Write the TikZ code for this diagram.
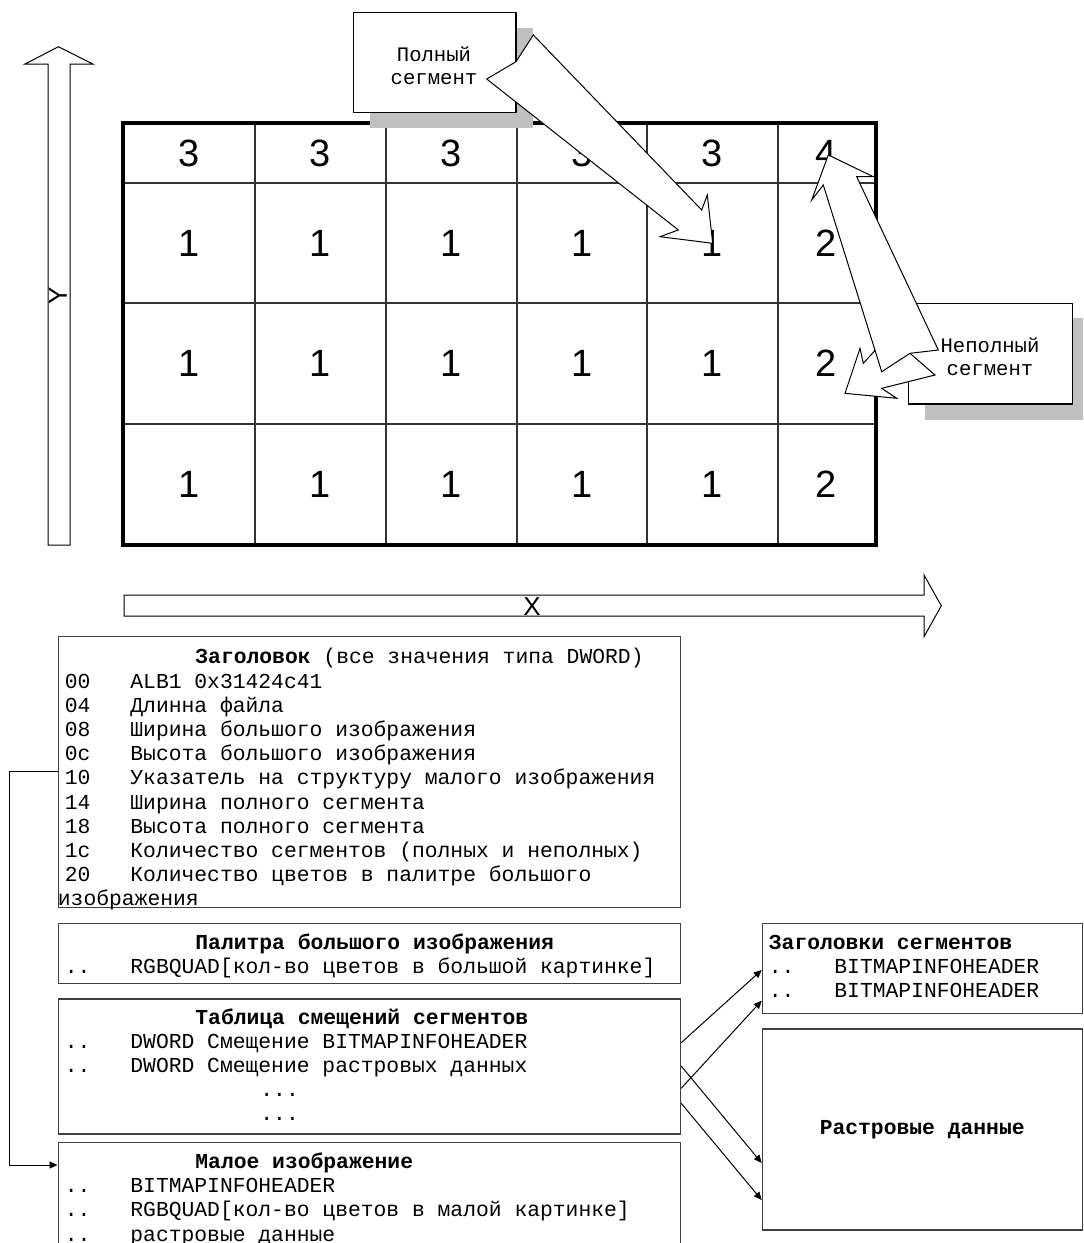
\documentclass[tikz,border=0pt]{standalone}
\usepackage{fontspec}
\setmainfont{Liberation Sans}
\setmonofont{Liberation Mono}
\usetikzlibrary{arrows.meta, positioning, calc}
\definecolor{shadowgray}{RGB}{192,192,192}

\begin{document}
\begin{tikzpicture}[
    x=0.5pt, y=-0.5pt,
    digit/.style={
        inner sep=0,
        font=\fontsize{19}{19}\selectfont
    },
    gridline/.style={
        draw=black!80,
        line width=0.55pt
    },
    axisarrow/.style={
        draw=black,
        fill=white,
        line width=0.5pt
    },
    axislabel/.style={
        inner sep=0,
        font=\fontsize{13}{13}\selectfont
    },
    note/.style={
        draw=black,
        fill=white,
        line width=0.6pt,
        inner sep=0
    },
    notetext/.style={
        inner sep=0,
        align=center,
        font=\ttfamily\fontsize{10.3}{11.5}\selectfont
    },
    dropshade/.style={
        fill=shadowgray
    },
    callout/.style={
        draw=black,
        fill=white,
        line width=0.5pt
    },
    rec/.style={
        draw=black!75,
        line width=0.6pt,
        anchor=north west,
        inner sep=0
    },
    listing/.style={
        anchor=north west,
        inner sep=0,
        align=left,
        font=\ttfamily\fontsize{10.67}{12.1}\selectfont
    },
    link/.style={
        -{Triangle[length=4pt, width=3.5pt]},
        line width=0.5pt,
        draw=black
    }
]
\useasboundingbox (0,0) rectangle (1083,1243);
\clip (0,0) rectangle (1083,1243);

% Axes
\draw[axisarrow] (48,545) -- (48,64) -- (25,64) -- (58.5,46.7) -- (92.7,64) -- (70,64) -- (70,545) -- cycle;
\node[axislabel, rotate=90] (ylab) at (58,296) {Y};
\draw[axisarrow] (124,595) -- (924,595) -- (924,575) -- (941.3,605.8) -- (924,636.7) -- (924,616) -- (124,616) -- cycle;
\node[axislabel] (xlab) at (532,607) {X};

% Segment grid
\foreach \gx in {255,386,517,647,778}
    \draw[gridline] (\gx,123) -- (\gx,545);
\foreach \gy in {183,303,424}
    \draw[gridline] (123,\gy) -- (876,\gy);
\draw[line width=1.8pt] (123,123) rectangle (876,545);
\foreach \cx/\va/\vb [count=\i] in {189/3/1, 320.5/3/1, 451.5/3/1, 582/3/1, 712.5/3/1, 826.5/4/2} {
    \node[digit] (c\i-1) at (\cx,153) {\va};
    \node[digit] (c\i-2) at (\cx,243) {\vb};
    \node[digit] (c\i-3) at (\cx,363.5) {\vb};
    \node[digit] (c\i-4) at (\cx,484.5) {\vb};
}

% Callouts
\fill[dropshade] (370,28.3) rectangle (533.3,128.3);
\node[note, minimum width=81.35pt, minimum height=49.8pt] (full) at (434.65,62.5) {};
\draw[callout] (533.3,35) -- (701.7,210) -- (707.3,195) -- (712.7,243.3) -- (660,236.7) -- (678.3,230) -- (486.7,79) -- (516,61.7) -- cycle;
\node[notetext] (fulltext) at (434,65.3) {Полный\\сегмент};

\fill[dropshade] (925,318.3) rectangle (1083.3,420);
\node[note, minimum width=82.2pt, minimum height=50.35pt] (part) at (990.5,353.65) {};
\draw[callout] (845,393.3) -- (860,348.3) -- (863.3,363.3) -- (880,345) -- (910,353.3) -- (935,375) -- (881.7,388.3) -- (896.7,398.3) -- cycle;
\draw[callout] (828.3,155) -- (873.3,176.7) -- (856.7,176.7) -- (938.3,350) -- (910,353.3) -- (881.7,371.7) -- (823.3,185) -- (811.7,200) -- cycle;
\node[notetext] (parttext) at (990,357) {Неполный\\сегмент};

% File layout
\node[rec, minimum width=311.25pt, minimum height=135.6pt] (hdr) at (57.5,635.5) {};
\node[rec, minimum width=311.25pt, minimum height=30pt] (pal) at (57.5,922.7) {};
\node[rec, minimum width=311.25pt, minimum height=67.5pt] (offs) at (57.5,998.3) {};
\node[rec, minimum width=311.25pt, minimum height=64pt] (small) at (57.5,1141.7) {};
\node[rec, minimum width=159.9pt, minimum height=45pt] (seghdr) at (761.7,922.7) {};
\node[rec, minimum width=159.9pt, minimum height=100.5pt, font=\ttfamily\bfseries\fontsize{10.67}{12.1}\selectfont] (raster) at (761.7,1028.3) {Растровые данные};

\node[listing] (hdrtext) at (64.5,646.5) {\strut\hspace*{65.25pt}\textbf{Заголовок} (все значения типа DWORD)\\
\makebox[32.75pt][l]{00}ALB1 0x31424c41\\
\makebox[32.75pt][l]{04}Длинна файла\\
\makebox[32.75pt][l]{08}Ширина большого изображения\\
\makebox[32.75pt][l]{0c}Высота большого изображения\\
\makebox[32.75pt][l]{10}Указатель на структуру малого изображения\\
\makebox[32.75pt][l]{14}Ширина полного сегмента\\
\makebox[32.75pt][l]{18}Высота полного сегмента\\
\makebox[32.75pt][l]{1c}Количество сегментов (полных и неполных)\\
\makebox[32.75pt][l]{20}Количество цветов в палитре большого\\
\hspace*{-3.5pt}изображения};
\node[listing] (paltext) at (64.5,932.2) {\strut\hspace*{65.25pt}\textbf{Палитра большого изображения}\\
\makebox[32.75pt][l]{..}RGBQUAD[кол-во цветов в большой картинке]};
\node[listing] (offtext) at (64.5,1006.8) {\strut\hspace*{65.25pt}\textbf{Таблица смещений сегментов}\\
\makebox[32.75pt][l]{..}DWORD Смещение BITMAPINFOHEADER\\
\makebox[32.75pt][l]{..}DWORD Смещение растровых данных\\
\hspace*{97.75pt}...\\
\hspace*{97.75pt}...};
\node[listing] (smalltext) at (64.5,1151.2) {\strut\hspace*{65.25pt}\textbf{Малое изображение}\\
\makebox[32.75pt][l]{..}BITMAPINFOHEADER\\
\makebox[32.75pt][l]{..}RGBQUAD[кол-во цветов в малой картинке]\\
\makebox[32.75pt][l]{..}растровые данные};
\node[listing] (segtext) at (768.5,932.2) {\strut\textbf{Заголовки сегментов}\\
\makebox[32.75pt][l]{..}BITMAPINFOHEADER\\
\makebox[32.75pt][l]{..}BITMAPINFOHEADER};

% Links
\draw[link] ($(hdr.north west)+(0,136.2)$) -- ++(-48.5,0) |- ($(small.north west)+(0,23.3)$);
\draw[link] ($(offs.north east)+(0,44.4)$) -- ($(seghdr.north west)+(0,47.3)$);
\draw[link] ($(offs.north east)+(0,90)$) -- ($(seghdr.north west)+(0,78)$);
\draw[link] ($(offs.north east)+(0,67.7)$) -- ($(raster.north west)+(0,134.7)$);
\draw[link] ($(offs.north east)+(0,105)$) -- ($(raster.north west)+(0,171.7)$);

\end{tikzpicture}
\end{document}
